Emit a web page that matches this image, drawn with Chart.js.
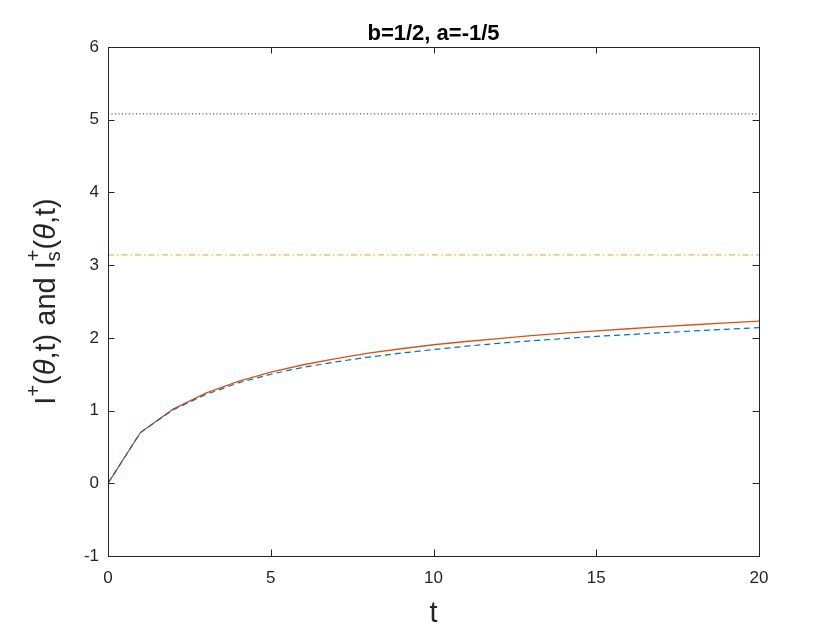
<!DOCTYPE html>
<html>
<head>
<meta charset="utf-8">
<script src="https://cdn.jsdelivr.net/npm/chart.js@4/dist/chart.umd.min.js"></script>
<style>
  html, body { margin: 0; padding: 0; background: #ffffff; }
  #wrap { width: 840px; height: 630px; }
</style>
</head>
<body>
<div id="wrap"><canvas id="c" width="840" height="630"></canvas></div>
<script>
// ---- data ----
const tValues   = [0, 1, 2, 3, 4, 5, 6, 7, 8, 9, 10, 11, 12, 13, 14, 15, 16, 17, 18, 19, 20];
const iPlus     = [0, 0.70, 1.02, 1.24, 1.40, 1.53, 1.63, 1.715, 1.79, 1.85, 1.905, 1.95, 1.99, 2.03, 2.065, 2.095, 2.125, 2.155, 2.18, 2.205, 2.23];
const iPlusS    = [0, 0.70, 1.01, 1.22, 1.38, 1.50, 1.595, 1.67, 1.735, 1.79, 1.84, 1.885, 1.925, 1.96, 1.99, 2.02, 2.045, 2.07, 2.095, 2.118, 2.14];
const dottedLevel  = 5.08;
const dashDotLevel = 3.14;
const xRange = [0, 20];
const yRange = [-1, 6];
const xTickStep = 5;
const yTickStep = 1;
const titleText = 'b=1/2, a=-1/5';
const xLabelText = 't';

const toPts = (xs, ys) => xs.map((x, i) => ({ x: x, y: ys[i] }));
const hLine = (lvl) => xRange.map(x => ({ x: x, y: lvl }));

const AX = '#262626';
const FONT = "'Liberation Sans', Arial, Helvetica, sans-serif";

const framePlugin = {
  id: 'frame',
  afterDraw(chart) {
    const ctx = chart.ctx;
    const a = chart.chartArea;
    const xs = chart.scales.x, ys = chart.scales.y;
    ctx.save();
    ctx.strokeStyle = AX;
    ctx.lineWidth = 1;
    ctx.setLineDash([]);
    // box
    ctx.strokeRect(Math.round(a.left) + 0.5, Math.round(a.top) + 0.5,
                   Math.round(a.right - a.left), Math.round(a.bottom - a.top));
    const tl = 6.5;
    ctx.beginPath();
    xs.ticks.forEach(t => {
      const px = Math.round(xs.getPixelForValue(t.value)) + 0.5;
      ctx.moveTo(px, a.bottom); ctx.lineTo(px, a.bottom - tl);
      ctx.moveTo(px, a.top); ctx.lineTo(px, a.top + tl);
    });
    ys.ticks.forEach(t => {
      const py = Math.round(ys.getPixelForValue(t.value)) + 0.5;
      ctx.moveTo(a.left, py); ctx.lineTo(a.left + tl, py);
      ctx.moveTo(a.right, py); ctx.lineTo(a.right - tl, py);
    });
    ctx.stroke();

    // title
    ctx.fillStyle = '#000000';
    ctx.font = 'bold 22px ' + FONT;
    ctx.textAlign = 'center';
    ctx.textBaseline = 'alphabetic';
    ctx.fillText(titleText, (a.left + a.right) / 2, 40);

    // x label
    ctx.fillStyle = AX;
    ctx.font = '29px ' + FONT;
    ctx.fillText(xLabelText, (a.left + a.right) / 2, 622);

    // y label with super/subscripts
    const big = '29px ' + FONT;
    const bigIt = 'italic 29px ' + FONT;
    const small = '20px ' + FONT;
    const pieces = [
      { t: 'I', f: big, dy: 0 },
      { t: '+', f: small, dy: -15 },
      { t: '(', f: big, dy: 0 },
      { t: 'θ', f: bigIt, dy: 0 },
      { t: ',t) and I', f: big, dy: 0 },
      { stack: [{ t: '+', f: small, dy: -15 }, { t: 's', f: small, dy: 5 }] },
      { t: '(', f: big, dy: 0 },
      { t: 'θ', f: bigIt, dy: 0 },
      { t: ',t)', f: big, dy: 0 }
    ];
    const widthOf = p => {
      if (p.stack) {
        return Math.max(...p.stack.map(s => { ctx.font = s.f; return ctx.measureText(s.t).width; }));
      }
      ctx.font = p.f; return ctx.measureText(p.t).width;
    };
    const total = pieces.reduce((s, p) => s + widthOf(p), 0);
    ctx.translate(55, (a.top + a.bottom) / 2);
    ctx.rotate(-Math.PI / 2);
    ctx.textAlign = 'left';
    let cx = -total / 2;
    pieces.forEach(p => {
      const w = widthOf(p);
      if (p.stack) {
        p.stack.forEach(s => { ctx.font = s.f; ctx.fillText(s.t, cx, s.dy); });
      } else {
        ctx.font = p.f; ctx.fillText(p.t, cx, p.dy);
      }
      cx += w;
    });
    ctx.restore();
  }
};

new Chart(document.getElementById('c'), {
  type: 'line',
  data: {
    datasets: [
      {
        label: 'dotted level',
        data: hLine(dottedLevel),
        borderColor: '#1a1a1a',
        borderWidth: 1,
        borderDash: [1, 2.5],
        pointRadius: 0,
        fill: false
      },
      {
        label: 'dash-dot level',
        data: hLine(dashDotLevel),
        borderColor: '#E3A81A',
        borderWidth: 1,
        borderDash: [6, 3, 1.5, 3],
        pointRadius: 0,
        fill: false
      },
      {
        label: 'I_s+(θ,t)',
        data: toPts(tValues, iPlusS),
        borderColor: '#0072BD',
        borderWidth: 1.2,
        borderDash: [6, 4],
        pointRadius: 0,
        tension: 0,
        fill: false
      },
      {
        label: 'I+(θ,t)',
        data: toPts(tValues, iPlus),
        borderColor: '#D95319',
        borderWidth: 1.3,
        pointRadius: 0,
        tension: 0,
        fill: false
      }
    ]
  },
  options: {
    responsive: false,
    devicePixelRatio: 1,
    animation: false,
    layout: { padding: { left: 0, top: 47, right: 81, bottom: 0 } },
    plugins: {
      legend: { display: false },
      title: { display: false },
      tooltip: { enabled: false }
    },
    scales: {
      x: {
        type: 'linear',
        min: xRange[0], max: xRange[1],
        grid: { display: false, drawTicks: false },
        border: { display: false },
        ticks: {
          stepSize: xTickStep,
          color: AX,
          font: { family: FONT, size: 17 },
          padding: 12,
          maxRotation: 0
        },
        afterFit: s => { s.height = 74; }
      },
      y: {
        type: 'linear',
        min: yRange[0], max: yRange[1],
        grid: { display: false, drawTicks: false },
        border: { display: false },
        ticks: {
          stepSize: yTickStep,
          color: AX,
          font: { family: FONT, size: 17 },
          padding: 9
        },
        afterFit: s => { s.width = 108; }
      }
    }
  },
  plugins: [framePlugin]
});
</script>
</body>
</html>
